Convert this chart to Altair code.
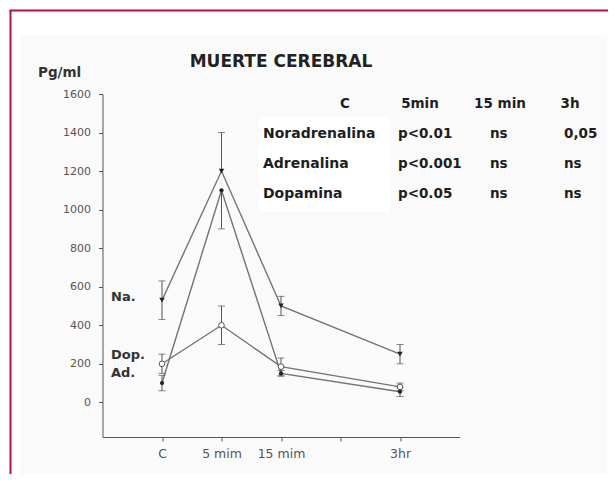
import altair as alt
import pandas as pd

# ---- data ----
x_labels = ["C", "5 mim", "15 mim", " ", "3hr"]   # " " = unlabeled tick
times = ["C", "5 mim", "15 mim", "3hr"]
series = ["Noradrenalina", "Adrenalina", "Dopamina"]
na_mean = [530, 1200, 500, 250]
na_err_lo = [100, 0, 50, 50]
na_err_hi = [100, 200, 50, 50]
ad_mean = [100, 1100, 150, 55]
ad_err_lo = [40, 200, 15, 25]
ad_err_hi = [40, 0, 15, 25]
dop_mean = [200, 400, 185, 80]
dop_err_lo = [50, 100, 45, 20]
dop_err_hi = [50, 100, 45, 20]
y_ticks = [0, 200, 400, 600, 800, 1000, 1200, 1400, 1600]

title_text = "MUERTE CEREBRAL"
unit_text = "Pg/ml"
series_labels = ["Na.", "Dop.", "Ad."]
table_header = ["C", "5min", "15 min", "3h"]
table_rows = ["Noradrenalina", "Adrenalina", "Dopamina"]
table_vals = [["p<0.01", "ns", "0,05"],
              ["p<0.001", "ns", "ns"],
              ["p<0.05", "ns", "ns"]]

rows = []
for s, m, el, eh in [(series[0], na_mean, na_err_lo, na_err_hi),
                     (series[1], ad_mean, ad_err_lo, ad_err_hi),
                     (series[2], dop_mean, dop_err_lo, dop_err_hi)]:
    for t, mv, a, b in zip(times, m, el, eh):
        rows.append({"series": s, "time": t, "v": mv, "lo": mv - a, "hi": mv + b,
                     "elo": a, "ehi": b})
df = pd.DataFrame(rows)

# ---- layout (pixels relative to plot origin) ----
W, H = 357, 343
OX, OY = 94.5, 86      # padding => plot origin at page (102.5, 94)
FONT = "DejaVu Sans"
one = pd.DataFrame({"k": [0]})

xenc = alt.X("time:N", scale=alt.Scale(type="point", domain=x_labels, padding=1),
             axis=alt.Axis(title=None, domainColor="#555", tickColor="#555", tickSize=4,
                           labelFont=FONT, labelFontSize=12.5, labelColor="#555",
                           labelPadding=6, labelAngle=0, grid=False, zindex=1))
yenc = alt.Y("v:Q", scale=alt.Scale(domain=[-180, 1600], nice=False, zero=False),
             axis=alt.Axis(title=None, values=y_ticks, format="d", domainColor="#555",
                           tickColor="#555", tickSize=4, labelFont=FONT, labelFontSize=11,
                           labelColor="#555", labelPadding=8, grid=False, zindex=1))

panel = alt.Chart(one).mark_rect(fill="#fafafa").encode(
    x=alt.value(20 - 102.5), x2=alt.value(607 - 102.5),
    y=alt.value(35 - 94), y2=alt.value(480 - 94))
white_box = alt.Chart(one).mark_rect(fill="white").encode(
    x=alt.value(259 - 102.5), x2=alt.value(390 - 102.5),
    y=alt.value(117 - 94), y2=alt.value(212 - 94))
border_l = alt.Chart(one).mark_rule(color="#b3123e", strokeWidth=2).encode(
    x=alt.value(10.5 - 102.5), y=alt.value(10 - 94), y2=alt.value(480 - 94))
border_t = alt.Chart(one).mark_rule(color="#b3123e", strokeWidth=2).encode(
    x=alt.value(9.5 - 102.5), x2=alt.value(620 - 102.5), y=alt.value(10.5 - 94))

base = alt.Chart(df)
lines = base.mark_line(color="#737373", strokeWidth=1.4).encode(
    x=xenc, y=yenc, detail="series:N")
err = base.mark_rule(color="#555", strokeWidth=1).encode(
    x=alt.X("time:N"), y=alt.Y("lo:Q"), y2="hi:Q")
cap_lo = base.transform_filter(alt.datum.elo > 0).mark_tick(
    color="#555", orient="horizontal", size=7, thickness=1).encode(
    x=alt.X("time:N"), y=alt.Y("lo:Q"))
cap_hi = base.transform_filter(alt.datum.ehi > 0).mark_tick(
    color="#555", orient="horizontal", size=7, thickness=1).encode(
    x=alt.X("time:N"), y=alt.Y("hi:Q"))

pts_na = base.transform_filter(alt.datum.series == series[0]).mark_point(
    shape="triangle-down", filled=True, color="#222", size=30, opacity=1).encode(
    x=alt.X("time:N"), y=alt.Y("v:Q"))
pts_ad = base.transform_filter(alt.datum.series == series[1]).mark_point(
    shape="circle", filled=True, color="#222", size=18, opacity=1).encode(
    x=alt.X("time:N"), y=alt.Y("v:Q"))
pts_dop = base.transform_filter(alt.datum.series == series[2]).mark_point(
    shape="circle", filled=True, fill="white", stroke="#555", strokeWidth=1, size=32, opacity=1).encode(
    x=alt.X("time:N"), y=alt.Y("v:Q"))


def txt(s, px, py, size, align="left", color="#1e1e1e", bold=True):
    return alt.Chart(one).mark_text(
        text=s, font=FONT, fontSize=size, fontWeight="bold" if bold else "normal",
        align=align, baseline="middle", color=color).encode(
        x=alt.value(px - 102.5), y=alt.value(py - 94))


texts = [txt(title_text, 281, 62, 17, align="center", color="#222"),
         txt(unit_text, 38, 73, 13.5, color="#333")]
for lab, py in zip(series_labels, [297, 355, 373]):
    texts.append(txt(lab, 111, py, 13, color="#333"))
for lab, px in zip(table_header, [345, 420, 500, 570]):
    texts.append(txt(lab, px, 104, 13.5, align="center"))
for r, (lab, py) in enumerate(zip(table_rows, [134, 164, 194])):
    texts.append(txt(lab, 263, py, 14))
    for v, px in zip(table_vals[r], [398, 490, 564]):
        texts.append(txt(v, px, py, 13.5))

chart = alt.layer(panel, white_box, border_l, border_t, lines, err, cap_lo, cap_hi,
                  pts_na, pts_ad, pts_dop, *texts).properties(
    width=W, height=H,
    autosize=alt.AutoSizeParams(type="none"),
    padding={"left": OX, "top": OY, "right": 600 - OX - W, "bottom": 466 - OY - H},
    background="white",
).configure_view(strokeWidth=0)

chart.save("out.html", embed_options={"renderer": "svg", "actions": False})
